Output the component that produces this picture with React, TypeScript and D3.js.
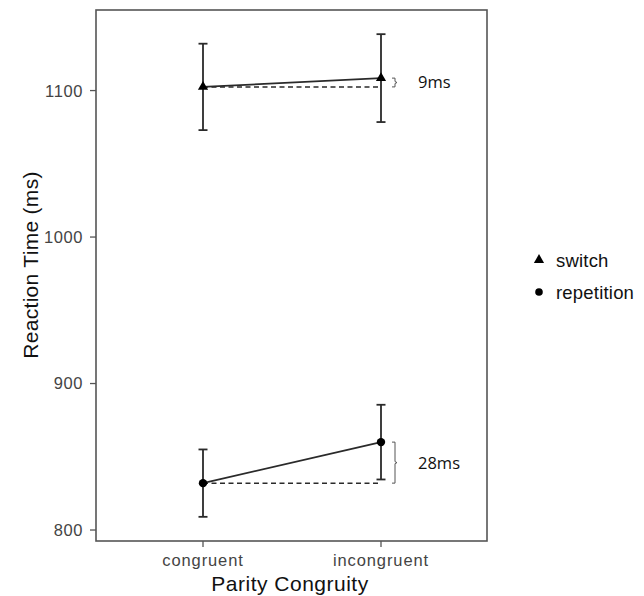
import React from "react";
import * as d3 from "d3";

const categories = ["congruent", "incongruent"];
const switchMeans = [1102.5, 1108.5];
const switchErr = [29.5, 30];
const repetitionMeans = [832, 860];
const repetitionErr = [23, 25.5];
const yTicks = [800, 900, 1000, 1100];
const annotations = ["9ms", "28ms"];
const legendLabels = ["switch", "repetition"];

const W = 644;
const H = 596;
const panel = { left: 96, top: 10, right: 487, bottom: 541 };

export default function App() {
  const y = d3.scaleLinear().domain([792.5, 1155]).range([panel.bottom, panel.top]);
  const x = d3.scalePoint<string>().domain(categories).range([203, 381]);
  const line = d3.line<[number, number]>().x((d) => d[0]).y((d) => d[1]);
  const tri = d3.symbol().type(d3.symbolTriangle).size(45)();
  const series = [
    { name: "switch", means: switchMeans, err: switchErr, shape: "tri" },
    { name: "repetition", means: repetitionMeans, err: repetitionErr, shape: "circle" },
  ];
  const stroke = "#2a2a2a";
  const cap = 4.5;
  const font = "Liberation Sans, Arial, sans-serif";
  return (
    <svg width={W} height={H} style={{ position: "absolute", left: 0, top: 0 }}>
      <rect x={0} y={0} width={W} height={H} fill="#fff" />
      <rect
        x={panel.left}
        y={panel.top}
        width={panel.right - panel.left}
        height={panel.bottom - panel.top}
        fill="none"
        stroke="#555"
        strokeWidth={1.6}
      />
      {yTicks.map((t) => (
        <g key={t}>
          <line x1={panel.left - 6} x2={panel.left} y1={y(t)} y2={y(t)} stroke="#555" strokeWidth={1.3} />
          <text
            x={panel.left - 13}
            y={y(t)}
            dy="0.36em"
            textAnchor="end"
            fontFamily={font}
            fontSize={16.5}
            letterSpacing={0.6}
            fill="#444"
          >
            {t}
          </text>
        </g>
      ))}
      {categories.map((c) => (
        <g key={c}>
          <line x1={x(c)} x2={x(c)} y1={panel.bottom} y2={panel.bottom + 6} stroke="#555" strokeWidth={1.3} />
          <text
            x={x(c)}
            y={566}
            textAnchor="middle"
            fontFamily={font}
            fontSize={16.5}
            letterSpacing={0.9}
            fill="#444"
          >
            {c}
          </text>
        </g>
      ))}
      <text
        x={290}
        y={591}
        textAnchor="middle"
        fontFamily={font}
        fontSize={21}
        letterSpacing={0.5}
        fill="#111"
      >
        Parity Congruity
      </text>
      <text
        transform={`translate(38,265) rotate(-90)`}
        textAnchor="middle"
        fontFamily={font}
        fontSize={21}
        letterSpacing={0.3}
        fill="#111"
      >
        Reaction Time (ms)
      </text>
      {series.map((s, si) => {
        const pts: [number, number][] = categories.map((c, i) => [x(c)!, y(s.means[i])]);
        const dashed: [number, number][] = [
          [x(categories[0])!, y(s.means[0])],
          [x(categories[1])!, y(s.means[0])],
        ];
        const bx = x(categories[1])! + 11;
        const y1 = y(s.means[1]);
        const y0 = y(s.means[0]);
        const mid = (y0 + y1) / 2;
        const brace = `M${bx},${y1} L${bx + 3},${y1} L${bx + 3},${mid - 1} L${bx + 5},${mid} L${bx + 3},${mid + 1} L${bx + 3},${y0} L${bx},${y0}`;
        return (
          <g key={s.name}>
            <path d={line(dashed)!} fill="none" stroke={stroke} strokeWidth={1.5} strokeDasharray="5,3.5" />
            <path d={line(pts)!} fill="none" stroke={stroke} strokeWidth={1.8} />
            {categories.map((c, i) => (
              <g key={c}>
                <line x1={x(c)} x2={x(c)} y1={y(s.means[i] - s.err[i])} y2={y(s.means[i] + s.err[i])} stroke={stroke} strokeWidth={1.8} />
                <line x1={x(c)! - cap} x2={x(c)! + cap} y1={y(s.means[i] - s.err[i])} y2={y(s.means[i] - s.err[i])} stroke={stroke} strokeWidth={1.8} />
                <line x1={x(c)! - cap} x2={x(c)! + cap} y1={y(s.means[i] + s.err[i])} y2={y(s.means[i] + s.err[i])} stroke={stroke} strokeWidth={1.8} />
                {s.shape === "tri" ? (
                  <path d={tri!} transform={`translate(${x(c)},${y(s.means[i])})`} fill="#000" />
                ) : (
                  <circle cx={x(c)} cy={y(s.means[i])} r={4.2} fill="#000" />
                )}
              </g>
            ))}
            <path d={brace} fill="none" stroke="#555" strokeWidth={1} />
            <text
              x={418}
              y={mid}
              dy="0.36em"
              fontFamily="Open Sans, sans-serif"
              fontSize={16.5}
              fill="#111"
            >
              {annotations[si]}
            </text>
          </g>
        );
      })}
      {legendLabels.map((l, i) => (
        <g key={l} transform={`translate(539,${260 + i * 32})`}>
          {i === 0 ? <path d={tri!} fill="#000" /> : <circle r={3.8} fill="#000" />}
          <text x={17} dy="0.36em" fontFamily={font} fontSize={18.5} letterSpacing={0.2} fill="#111">
            {l}
          </text>
        </g>
      ))}
    </svg>
  );
}
